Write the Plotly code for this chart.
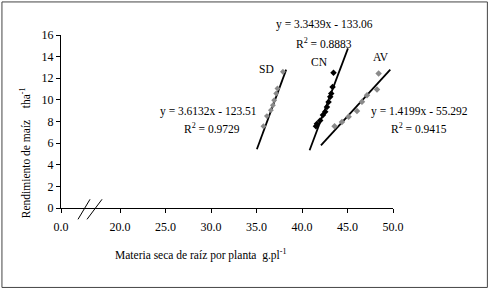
import plotly.graph_objects as go

# ---- data ----
sd_x = [37.9, 37.3, 37.16, 36.94, 36.8, 36.58, 36.14, 35.76]
sd_y = [12.6, 11.05, 10.6, 9.97, 9.5, 9.05, 8.5, 7.56]

cn_x = [43.46, 43.36, 43.21, 43.1, 42.92, 42.74, 42.55, 42.3, 42.0, 41.64, 41.53]
cn_y = [12.5, 11.2, 10.6, 10.3, 9.8, 9.35, 8.9, 8.6, 8.1, 7.8, 7.56]

av_x = [48.42, 48.24, 47.14, 46.59, 46.04, 45.12, 44.39, 43.58]
av_y = [12.44, 10.96, 10.43, 9.82, 8.98, 8.43, 7.96, 7.56]

# trend line end points as drawn
sd_line_x = [35.04, 38.26]
sd_line_y = [5.43, 12.8]
cn_line_x = [40.83, 45.05]
cn_line_y = [5.34, 14.76]
av_line_x = [42.08, 49.7]
av_line_y = [5.8, 12.8]

x_tickvals = [13.51, 20, 25, 30, 35, 40, 45, 50]
x_ticktext = ["0.0", "20.0", "25.0", "30.0", "35.0", "40.0", "45.0", "50.0"]
y_tickvals = [0, 2, 4, 6, 8, 10, 12, 14, 16]

FONT = "Liberation Serif"
GRAY = "#8a8a8a"

def px(xp):
    return (xp - 61) / 331.7

def py(yp):
    return (207.7 - yp) / 172.7

fig = go.Figure()
for lx, ly in [(sd_line_x, sd_line_y), (cn_line_x, cn_line_y), (av_line_x, av_line_y)]:
    fig.add_trace(go.Scatter(x=lx, y=ly, mode="lines",
                             line=dict(color="black", width=1.8), showlegend=False,
                             cliponaxis=False))
fig.add_trace(go.Scatter(x=sd_x, y=sd_y, mode="markers",
                         marker=dict(symbol="diamond", size=4.5, color=GRAY), showlegend=False))
fig.add_trace(go.Scatter(x=cn_x, y=cn_y, mode="markers",
                         marker=dict(symbol="diamond", size=5, color="black"), showlegend=False))
fig.add_trace(go.Scatter(x=av_x, y=av_y, mode="markers",
                         marker=dict(symbol="diamond", size=5, color=GRAY), showlegend=False))

# text labels: (text, pixel centre x, pixel centre y)
ann = [
    ("y = 3.3439x - 133.06", 324, 25),
    ("R<sup>2</sup> = 0.8883", 324, 43),
    ("SD", 266, 69),
    ("CN", 319, 62),
    ("AV", 381, 57),
    ("y = 3.6132x - 123.51", 208, 111),
    ("R<sup>2</sup> = 0.9729", 212, 128),
    ("y = 1.4199x - 55.292", 419, 111),
    ("R<sup>2</sup> = 0.9415", 419, 128),
]
annotations = [dict(text=t, x=px(x), y=py(y), xref="paper", yref="paper", showarrow=False,
                    xanchor="center", yanchor="middle",
                    font=dict(family=FONT, size=11.5, color="black")) for t, x, y in ann]

annotations.append(dict(text="Rendimiento de maíz    tha<sup>-1</sup>", xref="paper", yref="paper",
                        x=px(25), y=py(152), textangle=-90, xanchor="center", yanchor="middle",
                        showarrow=False, font=dict(family=FONT, size=11.5, color="black")))
annotations.append(dict(text="Materia seca de raíz por planta  g.pl<sup>-1</sup>", xref="paper", yref="paper",
                        x=px(200), y=py(254), xanchor="center", yanchor="middle",
                        showarrow=False, font=dict(family=FONT, size=11.5, color="black")))

shapes = [
    dict(type="line", xref="paper", yref="paper", x0=px(78), y0=py(219), x1=px(90), y1=py(199),
         line=dict(color="black", width=1)),
    dict(type="line", xref="paper", yref="paper", x0=px(87), y0=py(219), x1=px(102), y1=py(199),
         line=dict(color="black", width=1)),
    dict(type="rect", xref="paper", yref="paper", x0=px(2), y0=py(287), x1=px(487), y1=py(2),
         line=dict(color="#444", width=1)),
]

fig.update_layout(
    width=489, height=289,
    margin=dict(l=61, r=96.3, t=35, b=81.3),
    paper_bgcolor="white", plot_bgcolor="white",
    font=dict(family=FONT, size=12, color="black"),
    annotations=annotations, shapes=shapes,
    xaxis=dict(range=[13.51, 50], tickvals=x_tickvals, ticktext=x_ticktext,
               showgrid=False, zeroline=False, showline=True, linecolor="black", linewidth=1,
               ticks="outside", ticklen=4, tickcolor="black", ticklabelstandoff=4,
               tickfont=dict(family=FONT, size=12)),
    yaxis=dict(range=[0, 16], tickvals=y_tickvals, showgrid=False, zeroline=False,
               showline=True, linecolor="black", linewidth=1,
               ticks="outside", ticklen=4, tickcolor="black", tickfont=dict(family=FONT, size=12)),
)

fig.write_html("out.html")
